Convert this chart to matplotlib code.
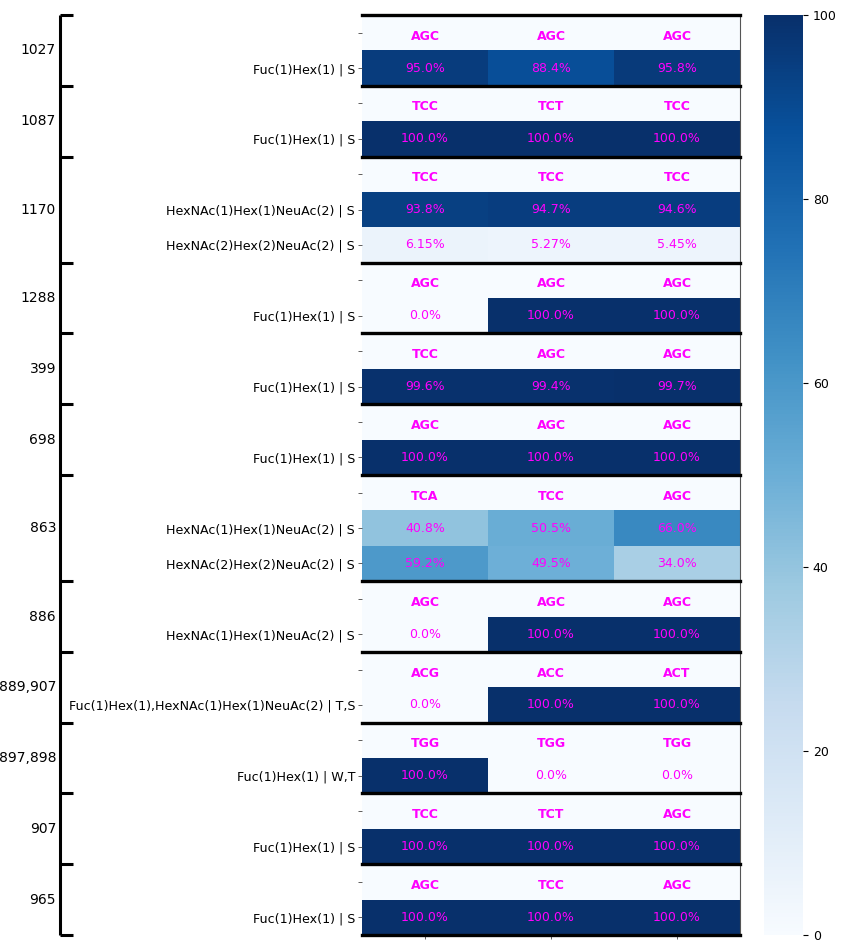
import numpy as np
import matplotlib
matplotlib.use("Agg")
import matplotlib.pyplot as plt

# ---- data ----
groups = ["1027", "1087", "1170", "1288", "399", "698", "863", "886",
          "889,907", "897,898", "907", "965"]
codons = [
    ["AGC", "AGC", "AGC"],
    ["TCC", "TCT", "TCC"],
    ["TCC", "TCC", "TCC"],
    ["AGC", "AGC", "AGC"],
    ["TCC", "AGC", "AGC"],
    ["AGC", "AGC", "AGC"],
    ["TCA", "TCC", "AGC"],
    ["AGC", "AGC", "AGC"],
    ["ACG", "ACC", "ACT"],
    ["TGG", "TGG", "TGG"],
    ["TCC", "TCT", "AGC"],
    ["AGC", "TCC", "AGC"],
]
glycan_labels = [
    ["Fuc(1)Hex(1) | S"],
    ["Fuc(1)Hex(1) | S"],
    ["HexNAc(1)Hex(1)NeuAc(2) | S", "HexNAc(2)Hex(2)NeuAc(2) | S"],
    ["Fuc(1)Hex(1) | S"],
    ["Fuc(1)Hex(1) | S"],
    ["Fuc(1)Hex(1) | S"],
    ["HexNAc(1)Hex(1)NeuAc(2) | S", "HexNAc(2)Hex(2)NeuAc(2) | S"],
    ["HexNAc(1)Hex(1)NeuAc(2) | S"],
    ["Fuc(1)Hex(1),HexNAc(1)Hex(1)NeuAc(2) | T,S"],
    ["Fuc(1)Hex(1) | W,T"],
    ["Fuc(1)Hex(1) | S"],
    ["Fuc(1)Hex(1) | S"],
]
percent_values = [
    [[95.0, 88.4, 95.8]],
    [[100.0, 100.0, 100.0]],
    [[93.8, 94.7, 94.6], [6.15, 5.27, 5.45]],
    [[0.0, 100.0, 100.0]],
    [[99.6, 99.4, 99.7]],
    [[100.0, 100.0, 100.0]],
    [[40.8, 50.5, 66.0], [59.2, 49.5, 34.0]],
    [[0.0, 100.0, 100.0]],
    [[0.0, 100.0, 100.0]],
    [[100.0, 0.0, 0.0]],
    [[100.0, 100.0, 100.0]],
    [[100.0, 100.0, 100.0]],
]
sample_labels = ["457", "22", "222"]

# ---- build matrix ----
rows_vals, rows_text, rows_bold, ylabels, bounds = [], [], [], [], [0]
for cods, labs, vals in zip(codons, glycan_labels, percent_values):
    rows_vals.append([0.0] * 3)
    rows_text.append(cods)
    rows_bold.append(True)
    ylabels.append("")
    for lab, v in zip(labs, vals):
        rows_vals.append(v)
        rows_text.append([(f"{x:.1f}%" if (x >= 10 or x == 0) else f"{x:.2f}%") for x in v])
        rows_bold.append(False)
        ylabels.append(lab)
    bounds.append(len(rows_vals))
M = np.array(rows_vals)
nrows, ncols = M.shape

W, H = 846, 943
fig = plt.figure(figsize=(W / 100, H / 100), dpi=100)
top_px, bot_px = 15, 935
ax = fig.add_axes([362 / W, 1 - bot_px / H, (740 - 362) / W, (bot_px - top_px) / H])
cax = fig.add_axes([764 / W, 1 - bot_px / H, (803 - 764) / W, (bot_px - top_px) / H])

mesh = ax.pcolormesh(M, cmap="Blues", vmin=0, vmax=100)
ax.set_xlim(0, ncols)
ax.set_ylim(nrows, 0)
for s in ["left", "top", "bottom"]:
    ax.spines[s].set_visible(False)
ax.spines["right"].set_color("#555555")
ax.spines["right"].set_linewidth(0.8)

mag = "#ff00ff"
for i in range(nrows):
    for j in range(ncols):
        if rows_bold[i]:
            ax.text(j + 0.5, i + 0.6, rows_text[i][j], ha="center", va="center",
                    color=mag, fontsize=9, fontweight="bold")
        else:
            ax.text(j + 0.5, i + 0.5, rows_text[i][j], ha="center", va="center",
                    color=mag, fontsize=9)

for b in bounds:
    ax.axhline(b, color="black", lw=2.4, zorder=5, clip_on=False)

ax.set_yticks(np.arange(nrows) + 0.5)
ax.set_yticklabels(ylabels, fontsize=9.1)
ax.set_xticks(np.arange(ncols) + 0.5)
ax.set_xticklabels(sample_labels, fontsize=9, rotation=90)
ax.tick_params(axis="y", length=3, width=0.6, color="#444444", pad=2)
ax.tick_params(axis="x", length=3, width=0.6, color="#444444", pad=2)

cb = fig.colorbar(mesh, cax=cax)
cb.outline.set_visible(False)
cb.set_ticks([0, 20, 40, 60, 80, 100])
cax.tick_params(labelsize=9, length=3.5, width=0.8)

# ---- bracket with group labels ----
bax = fig.add_axes([0, 1 - bot_px / H, 362 / W, (bot_px - top_px) / H])
bax.set_xlim(0, 362)
bax.set_ylim(nrows, 0)
bax.axis("off")
bax.plot([60, 60], [0, nrows], color="black", lw=2.2, clip_on=False, solid_capstyle="butt")
for b in bounds:
    bax.plot([60, 73], [b, b], color="black", lw=2.2, clip_on=False, solid_capstyle="butt")
for g, a, b in zip(groups, bounds[:-1], bounds[1:]):
    bax.text(56, (a + b) / 2, g, ha="right", va="center", fontsize=10)

fig.savefig("out.png", dpi=100)
